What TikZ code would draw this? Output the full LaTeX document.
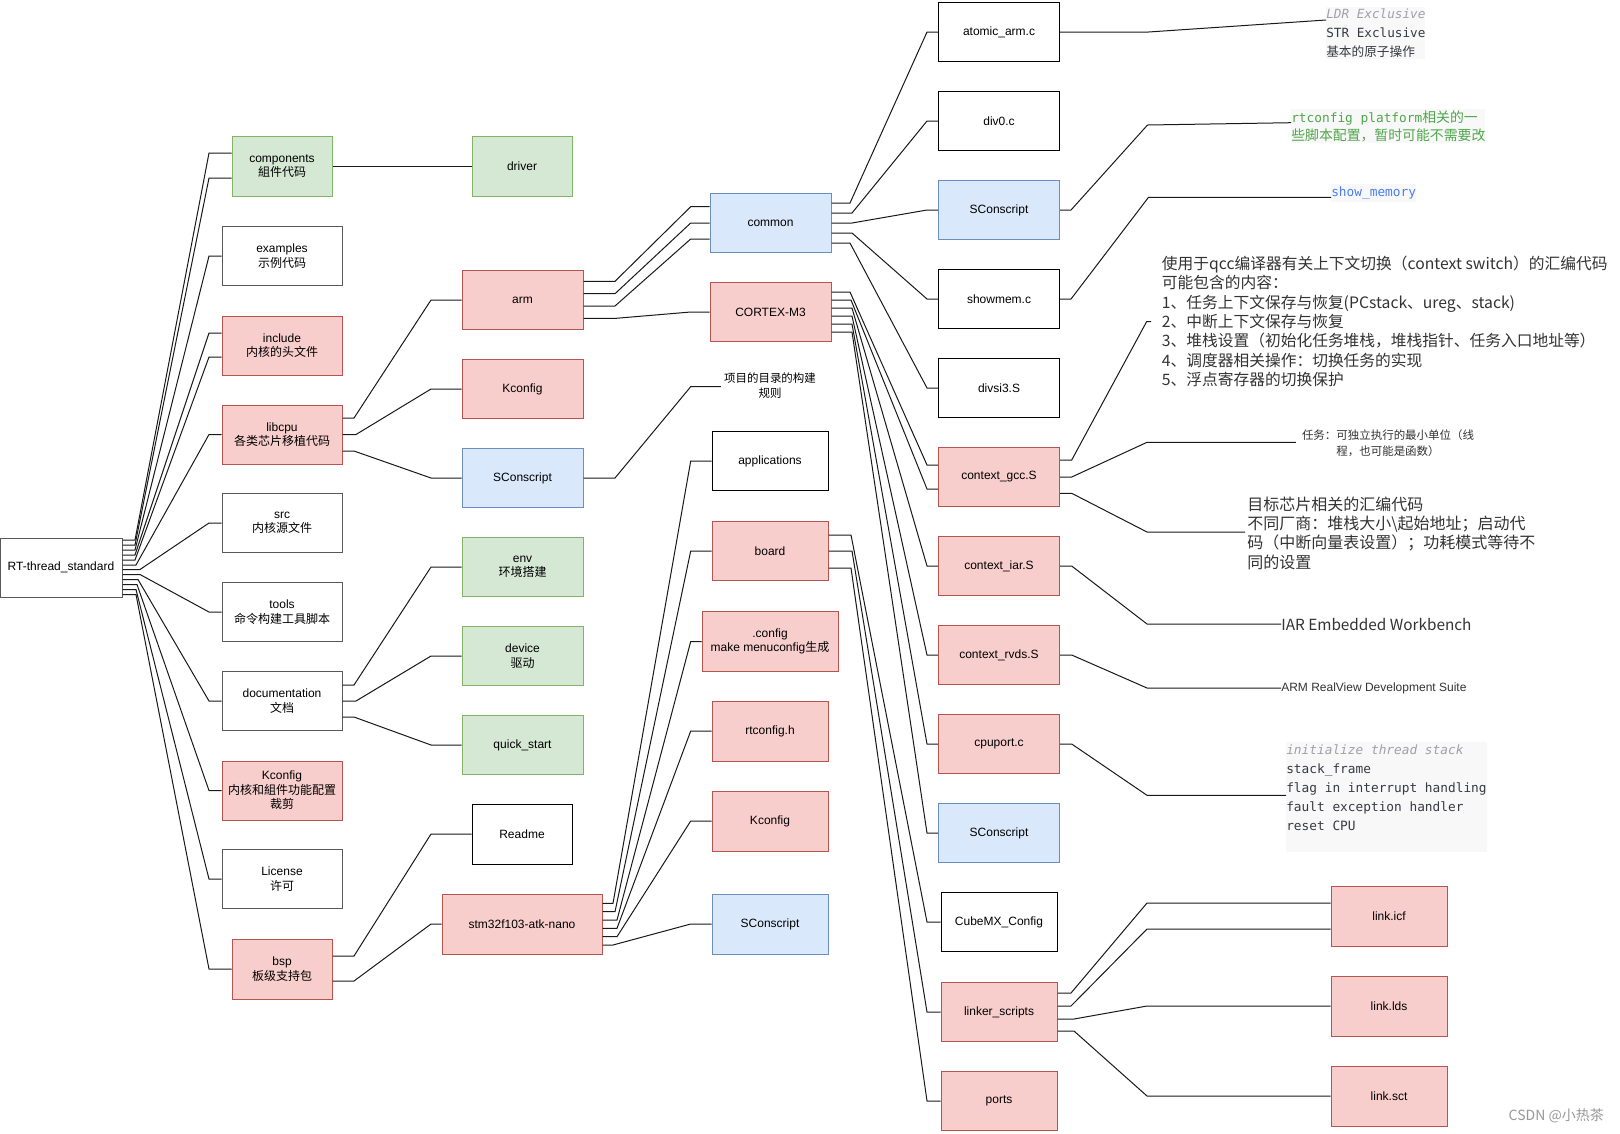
\documentclass[tikz,border=0pt]{standalone}
\usepackage{fontspec}
\setmainfont{Liberation Sans}
\newfontfamily\cjk{Noto Sans CJK SC}
\newfontfamily\monof{DejaVu Sans Mono}
\definecolor{gfill}{HTML}{D5E8D4}\definecolor{gdraw}{HTML}{82B366}
\definecolor{rfill}{HTML}{F8CECC}\definecolor{rdraw}{HTML}{B85450}
\definecolor{bfill}{HTML}{DAE8FC}\definecolor{bdraw}{HTML}{6C8EBF}
\definecolor{notebg}{HTML}{F8F8F8}
\definecolor{greentxt}{HTML}{50A64A}
\definecolor{bluetxt}{HTML}{4A7EF0}
\definecolor{graytxt}{HTML}{A0A1A7}
\definecolor{darktxt}{HTML}{383A42}
\definecolor{bigtxt}{HTML}{333333}
\tikzset{
 bx/.style={draw, line width=0.75pt, align=center, inner sep=1pt,
   font=\fontsize{9}{10.8}\selectfont, minimum width=90.75pt, minimum height=44.25pt},
 wbox/.style={bx, draw=black!65, fill=white},
 kbox/.style={bx, draw=black, fill=white},
 gbox/.style={bx, draw=gdraw, fill=gfill},
 rbox/.style={bx, draw=rdraw, fill=rfill},
 bbox/.style={bx, draw=bdraw, fill=bfill},
 wd/.style={minimum width=#1*0.75pt},
 conn/.style={draw=black!90, line width=0.75pt},
 note/.style={inner sep=0pt, align=left},
}
\newcommand{\cn}[6]{\draw[conn] (#1.east |- 0,#2) -- (#3,#2) -- (#4,#5) -- (#6.west |- 0,#5);}
\begin{document}
\begin{tikzpicture}[x=0.75pt,y=-0.75pt]
\fill[white] (0,0) rectangle (1620,1133);
\useasboundingbox (0,0) rectangle (1620,1133);

% column 1
\node[wbox, wd=122] (root) at (61,567.5) {RT-thread\_standard};
\node[gbox, wd=100, minimum height=45pt] (comp) at (282,166) {components\\{\cjk 組件代码}};
\node[wbox, wd=120] (examples) at (282,256) {examples\\{\cjk 示例代码}};
\node[rbox, wd=120] (include) at (282,345.5) {include\\{\cjk 内核的头文件}};
\node[rbox, wd=120] (libcpu) at (282,434.5) {libcpu\\{\cjk 各类芯片移植代码}};
\node[wbox, wd=120] (src) at (282,523) {src\\{\cjk 内核源文件}};
\node[wbox, wd=120] (tools) at (282,612) {tools\\{\cjk 命令构建工具脚本}};
\node[wbox, wd=120] (doc) at (282,701) {documentation\\{\cjk 文档}};
\node[rbox, wd=120] (kconfa) at (282,790.5) {Kconfig\\{\cjk 内核和組件功能配置}\\{\cjk 裁剪}};
\node[wbox, wd=120] (license) at (282,879) {License\\{\cjk 许可}};
\node[rbox, wd=100, minimum height=45pt] (bsp) at (282,969) {bsp\\{\cjk 板级支持包}};

% column 2
\node[gbox, wd=100, minimum height=45pt] (driver) at (522,166) {driver};
\node[rbox] (arm) at (522.5,300) {arm};
\node[rbox] (kconfb) at (522.5,389) {Kconfig};
\node[bbox] (sconsa) at (522.5,478) {SConscript};
\node[gbox] (env) at (522.5,567) {env\\{\cjk 环境搭建}};
\node[gbox] (device) at (522.5,656) {device\\{\cjk 驱动}};
\node[gbox] (quick) at (522.5,745) {quick\_start};
\node[kbox, wd=100, minimum height=45pt] (readme) at (522,834) {Readme};
\node[rbox, wd=160, minimum height=45pt] (stm) at (522,924) {stm32f103-atk-nano};

% column 3
\node[bbox] (common) at (770.5,223) {common};
\node[rbox] (cortex) at (770.5,312) {CORTEX-M3};
\node[note, align=center, inner xsep=2.2pt, font=\cjk\fontsize{8.6}{11.2}\selectfont] (proj) at (770,386) {项目的目录的构建\\规则};
\node[kbox, wd=116] (apps) at (770,461) {applications};
\node[rbox, wd=116] (board) at (770,551) {board};
\node[rbox, wd=136, minimum height=45pt] (config) at (770,641.5) {.config\\make menuconfig{\cjk 生成}};
\node[rbox, wd=116, minimum height=45pt] (rtcfgh) at (770,731) {rtconfig.h};
\node[rbox, wd=116, minimum height=45pt] (kconfc) at (770,821) {Kconfig};
\node[bbox, wd=116, minimum height=45pt] (sconsb) at (770,924) {SConscript};

% column 4
\node[kbox] (atomic) at (999,32) {atomic\_arm.c};
\node[kbox] (div0) at (999,121) {div0.c};
\node[bbox] (sconsc) at (999,210) {SConscript};
\node[kbox] (showmem) at (999,299) {showmem.c};
\node[kbox] (divsi) at (999,388) {divsi3.S};
\node[rbox] (gcc) at (999,477) {context\_gcc.S};
\node[rbox] (iar) at (999,566) {context\_iar.S};
\node[rbox] (rvds) at (999,655) {context\_rvds.S};
\node[rbox] (cpuport) at (999,744) {cpuport.c};
\node[bbox] (sconsd) at (999,833) {SConscript};
\node[kbox, wd=116] (cubemx) at (999,922) {CubeMX\_Config};
\node[rbox, wd=116] (linker) at (999,1012) {linker\_scripts};
\node[rbox, wd=116] (ports) at (999,1101) {ports};

% column 5
\node[rbox, wd=116, minimum height=45pt] (icf) at (1389,916) {link.icf};
\node[rbox, wd=116, minimum height=45pt] (lds) at (1389,1006) {link.lds};
\node[rbox, wd=116, minimum height=45pt] (sct) at (1389,1096) {link.sct};

% notes
\node[note, anchor=north west, fill=notebg, inner ysep=1pt, font=\monof\fontsize{9.5}{14.25}\selectfont] (ldr) at (1326,7)
 {{\color{graytxt}\itshape LDR Exclusive}\\{\color{darktxt}STR Exclusive}\\{\color{darktxt}\cjk 基本的原子操作}};
\node[note, anchor=north west, fill=notebg, inner ysep=1pt, text=greentxt, font=\monof\fontsize{9.6}{13.7}\selectfont] (rtnote) at (1291,109)
 {rtconfig platform{\cjk\fontsize{10.4}{13.7}\selectfont 相关的一}\\{\cjk\fontsize{10.4}{13.7}\selectfont 些脚本配置，暂时可能不需要改}};
\node[note, anchor=north west, fill=notebg, inner ysep=2pt, text=bluetxt, font=\monof\fontsize{9.6}{12}\selectfont] (shownote) at (1331,184) {show\_memory};
\node[note, anchor=west, inner xsep=8pt, text=bigtxt, font=\cjk\fontsize{11.8}{14.5}\selectfont] (big) at (1151,321.5)
 {使用于qcc编译器有关上下文切换（context switch）的汇编代码\\
  可能包含的内容：\\
  1、任务上下文保存与恢复(PCstack、ureg、stack)\\
  2、中断上下文保存与恢复\\
  3、堆栈设置（初始化任务堆栈，堆栈指针、任务入口地址等）\\
  4、调度器相关操作：切换任务的实现\\
  5、浮点寄存器的切换保护};
\node[note, align=center, inner xsep=4.5pt, text=bigtxt, font=\cjk\fontsize{8.6}{11.8}\selectfont] (task) at (1388,443)
 {任务：可独立执行的最小单位（线\\程，也可能是函数）};
\node[note, anchor=west, inner xsep=1.5pt, text=bigtxt, font=\cjk\fontsize{12}{14.5}\selectfont] (chip) at (1245,533)
 {目标芯片相关的汇编代码\\不同厂商：堆栈大小\textbackslash 起始地址；启动代\\码（中断向量表设置）；功耗模式等待不\\同的设置};
\node[note, anchor=west, text=bigtxt, font=\cjk\fontsize{11.5}{14}\selectfont] (iarnote) at (1281,624) {IAR Embedded Workbench};
\node[note, anchor=west, text=bigtxt, font=\fontsize{9}{11}\selectfont] (armnote) at (1281,688) {ARM RealView Development Suite};
\node[note, anchor=north west, fill=notebg, inner ysep=2pt, minimum width=150pt, text=darktxt, font=\monof\fontsize{9.6}{14.25}\selectfont] (initnote) at (1286,742)
 {{\color{graytxt}\itshape initialize thread stack}\\stack\_frame\\flag in interrupt handling\\fault exception handler\\reset CPU\\\mbox{}};
\node[anchor=east, inner sep=0pt, text=black!40, font=\cjk\fontsize{10.5}{12}\selectfont] (wm) at (1604,1116) {CSDN @小热茶};

% connectors: root
\cn{root}{540}{135}{209}{153}{comp}
\cn{root}{545}{135}{209}{178}{comp}
\cn{root}{550}{135}{209}{256}{examples}
\cn{root}{555}{135}{209}{333}{include}
\cn{root}{560}{135}{209}{357}{include}
\cn{root}{565}{136}{209}{434.5}{libcpu}
\cn{root}{569.5}{140}{209}{523}{src}
\cn{root}{574.5}{140}{209}{612}{tools}
\cn{root}{579.5}{138}{209}{701}{doc}
\cn{root}{584.5}{137}{209}{790.5}{kconfa}
\cn{root}{589.5}{136}{209}{879}{license}
\cn{root}{594.5}{136}{209}{969}{bsp}
\draw[conn] (comp.east) -- (driver.west);
% libcpu
\cn{libcpu}{418}{354}{431}{300}{arm}
\cn{libcpu}{434.5}{356}{431}{389}{kconfb}
\cn{libcpu}{451}{354}{431}{478}{sconsa}
% documentation
\cn{doc}{685}{354}{431}{567}{env}
\cn{doc}{701}{356}{431}{656}{device}
\cn{doc}{717}{354}{431}{745}{quick}
% bsp
\cn{bsp}{956}{354}{431}{834}{readme}
\cn{bsp}{981}{354}{431}{924}{stm}
% arm
\cn{arm}{281.3}{615}{690.7}{206.7}{common}
\cn{arm}{293.7}{615}{690.7}{223}{common}
\cn{arm}{306}{615}{690.7}{239}{common}
\cn{arm}{318.3}{616}{690.7}{312}{cortex}
\cn{sconsa}{478}{615}{690.7}{386.7}{proj}
% stm32
\cn{stm}{903.3}{613}{690.7}{461}{apps}
\cn{stm}{911.7}{615}{690.7}{551}{board}
\cn{stm}{920}{617}{690.7}{641.5}{config}
\cn{stm}{928.3}{617}{690.7}{731}{rtcfgh}
\cn{stm}{936.7}{617}{690.7}{821}{kconfc}
\cn{stm}{945}{613}{690.7}{924}{sconsb}
% common
\cn{common}{203}{850}{927}{32}{atomic}
\cn{common}{213}{852}{927}{121}{div0}
\cn{common}{223}{852}{927}{210}{sconsc}
\cn{common}{233}{852}{927}{299}{showmem}
\cn{common}{243}{850}{927}{388}{divsi}
% cortex
\cn{cortex}{292}{850}{927}{465}{gcc}
\cn{cortex}{300}{851}{927}{489}{gcc}
\cn{cortex}{308}{852}{927}{566}{iar}
\cn{cortex}{316}{852}{927}{655}{rvds}
\cn{cortex}{324}{852}{927}{744}{cpuport}
\cn{cortex}{332}{852}{927}{833}{sconsd}
% board
\cn{board}{535}{851}{927}{922}{cubemx}
\cn{board}{551}{852}{927}{1012}{linker}
\cn{board}{568}{851}{927}{1101}{ports}
% linker
\cn{linker}{993}{1071}{1147}{903}{icf}
\cn{linker}{1006}{1071}{1147}{929}{icf}
\cn{linker}{1019}{1074}{1147}{1006}{lds}
\cn{linker}{1031}{1074}{1147}{1096}{sct}
% annotations
\draw[conn] (atomic.east) -- (1148.5,32) -- (ldr.west |- 0,20);
\draw[conn] (sconsc.east) -- (1071,210) -- (1147.5,125) -- (rtnote.west |- 0,122.7);
\draw[conn] (showmem.east) -- (1071,299) -- (1148.5,197.3) -- (shownote.west |- 0,197.3);
\draw[conn] (gcc.east |- 0,460) -- (1071.7,460) -- (1146.7,321.5) -- (big.west);
\draw[conn] (gcc.east) -- (1071.7,477) -- (1147,442.3) -- (task.west |- 0,442.3);
\draw[conn] (gcc.east |- 0,493.3) -- (1071.7,493.3) -- (1147,532) -- (chip.west |- 0,532);
\draw[conn] (iar.east) -- (1071.7,566) -- (1147,624) -- (iarnote.west);
\draw[conn] (rvds.east) -- (1071.7,655) -- (1147,688) -- (armnote.west);
\draw[conn] (cpuport.east) -- (1071.7,744) -- (1147,795.3) -- (initnote.west |- 0,795.3);
\end{tikzpicture}
\end{document}
